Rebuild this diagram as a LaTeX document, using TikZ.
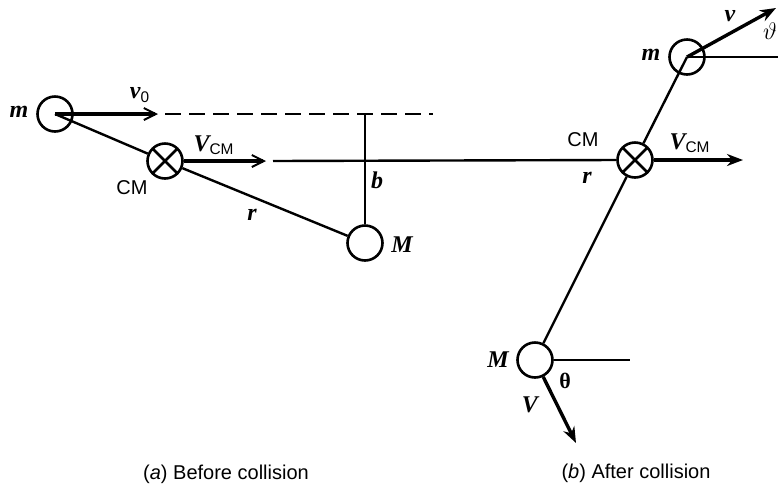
\documentclass[tikz,border=0pt]{standalone}
\usepackage{fontspec}
\setmainfont{Liberation Sans}
\newfontfamily\lblfont{Liberation Serif}
\usetikzlibrary{arrows.meta}
\newcommand{\sym}[1]{{\fontsize{12}{14}\selectfont\lblfont\bfseries\itshape #1}}

\begin{document}
\begin{tikzpicture}[
    x=0.5pt, y=-0.5pt,
    font=\fontsize{10}{12}\selectfont,
    ball/.style={circle, draw, line width=1.3pt, minimum size=17.5pt, inner sep=0pt},
    cmball/.style={ball, path picture={
        \draw[line width=1.3pt] (path picture bounding box.north west) -- (path picture bounding box.south east)
              (path picture bounding box.north east) -- (path picture bounding box.south west);}},
    rod/.style={line width=1.2pt},
    vec/.style={line width=1.7pt, -{Straight Barb[length=6pt,width=6pt,line width=1pt]}},
    fvec/.style={line width=1.7pt, -{Stealth[length=8pt,width=6pt]}}
]
    \useasboundingbox (0,0) rectangle (778,489);

    % (a) before collision
    \node[ball] (mA) at (55,114) {};
    \node[cmball] (cmA) at (165,161) {};
    \node[ball] (MA) at (365,243) {};
    \coordinate (v0tip) at (158,114);
    \coordinate (dashstart) at (165,114);
    \coordinate (dashend) at (433,114);
    \coordinate (bfoot) at (365,114);
    \coordinate (vcmtip) at (266,161);
    \coordinate (cmline) at (273,161);

    \draw[rod] (mA.center) -- (cmA);
    \draw[rod] (cmA) -- (MA);
    \draw[vec] (mA.center) -- (v0tip);
    \draw[rod, dash pattern=on 8pt off 4pt] (dashstart) -- (dashend);
    \draw[rod] (bfoot) -- (MA.north);
    \draw[vec] (cmA.east) -- (vcmtip);

    \node (mlA) at (19,112) {\sym{m}};
    \node (v0l) at (140,95) {\sym{v}{\fontsize{11}{12}\selectfont\textsubscript{0}}};
    \node (cmlA) at (132,188) {CM};
    \node (vcmlA) at (214,145) {\sym{V}{\fontsize{11}{12}\selectfont\textsubscript{CM}}};
    \node (bl) at (377,180) {\sym{b}};
    \node (rlA) at (252,215) {\sym{r}};
    \node (MlA) at (402,245) {\sym{M}};
    \node (capA) at (226,474) {(\textit{a}) Before collision};

    % (b) after collision
    \node[ball] (mB) at (687,57) {};
    \node[cmball] (cmB) at (635,160) {};
    \node[ball] (MB) at (535,360) {};
    \coordinate (mBref) at (778,57);
    \coordinate (vtip) at (776,8);
    \coordinate (vcmtipB) at (743,160);
    \coordinate (MBref) at (630,360);
    \coordinate (Vtip) at (576,443);

    \draw[rod] (cmline) -- (cmB.west);
    \draw[rod] (mB.center) -- (cmB);
    \draw[rod] (cmB) -- (MB);
    \draw[rod] (mB.center) -- (mBref);
    \draw[fvec] (mB.center) -- (vtip);
    \draw[fvec] (cmB.east) -- (vcmtipB);
    \draw[rod] (MB.east) -- (MBref);
    \draw[fvec] (MB.-64) -- (Vtip);

    \node (mlB) at (651,55) {\sym{m}};
    \node (vl) at (730,16) {\sym{v}};
    \node (thtop) at (770,31) {\fontsize{12}{14}\selectfont$\vartheta$};
    \node (cmlB) at (583,140) {CM};
    \node (vcmlB) at (690,143) {\sym{V}{\fontsize{11}{12}\selectfont\textsubscript{CM}}};
    \node (rlB) at (587,178) {\sym{r}};
    \node (MlB) at (498,360) {\sym{M}};
    \node (thl) at (565,381) {{\fontsize{11}{12}\selectfont\lblfont\bfseries θ}};
    \node (Vl) at (530,405) {\sym{V}};
    \node (capB) at (636,473) {(\textit{b}) After collision};
\end{tikzpicture}
\end{document}
